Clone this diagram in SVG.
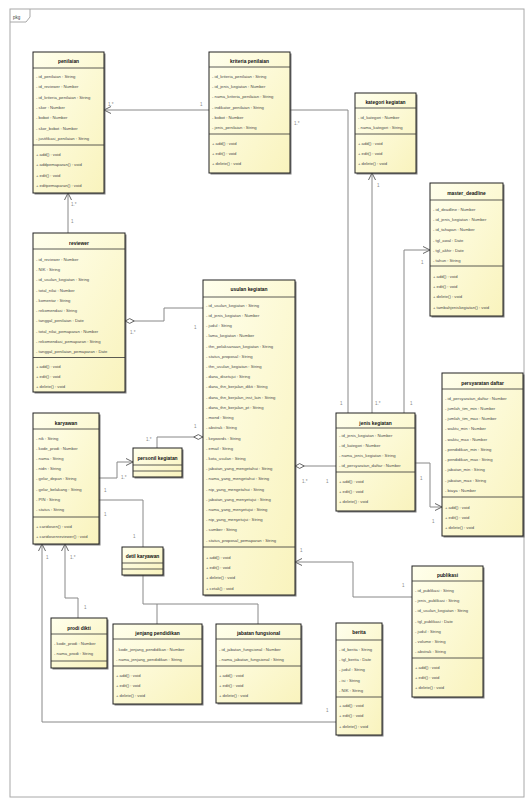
<svg xmlns="http://www.w3.org/2000/svg" width="526" height="799" viewBox="0 0 526 799">
<defs>
<linearGradient id="yg" x1="0" y1="0" x2="1" y2="1">
<stop offset="0" stop-color="#FFFFEC"/>
<stop offset="1" stop-color="#F9F3BD"/>
</linearGradient>
<marker id="arr" viewBox="0 0 8 8" refX="7.5" refY="4" markerWidth="8" markerHeight="8" markerUnits="userSpaceOnUse" orient="auto">
<path d="M0.5,0.5 L7.5,4 L0.5,7.5" fill="none" stroke="#666" stroke-width="1"/>
</marker>
<marker id="dia" viewBox="0 0 10 6" refX="0.3" refY="3" markerWidth="10" markerHeight="6" markerUnits="userSpaceOnUse" orient="auto">
<path d="M0.5,3 L5,0.6 L9.5,3 L5,5.4 Z" fill="#fff" stroke="#555" stroke-width="0.9"/>
</marker>
<marker id="tri" viewBox="0 0 10 10" refX="0.5" refY="5" markerWidth="9" markerHeight="9" markerUnits="userSpaceOnUse" orient="auto">
<path d="M0.5,5 L8.5,1 L8.5,9 Z" fill="#fff" stroke="#555" stroke-width="0.9"/>
</marker>
</defs>
<style>
.bx{fill:url(#yg);stroke:#222;stroke-width:1}
.sh{fill:#555;opacity:.75}
.sep{stroke:#333;stroke-width:0.8;fill:none}
.t{font-family:"Liberation Sans",Arial,sans-serif;font-size:4.9px;font-weight:bold;fill:#111;text-anchor:middle}
.a{font-family:"Liberation Sans",Arial,sans-serif;font-size:4.2px;fill:#4a4a4a}
.c{fill:none;stroke:#888;stroke-width:1}
.l{font-family:"Liberation Sans",Arial,sans-serif;font-size:4.5px;fill:#888}
.fr{fill:none;stroke:#a8a8a8;stroke-width:1}
</style>
<rect width="526" height="799" fill="#fff"/>
<g id="frame">
<rect class="fr" x="10" y="9" width="514" height="788"/>
<path class="fr" d="M10,22 H26 L30,17 V9"/>
<text class="l" x="13" y="19" style="fill:#444">pkg</text>
</g>
<g id="connectors">
<path class="c" d="M209,110 H104" marker-end="url(#arr)"/>
<path class="c" d="M290,110 H348 V413"/>
<path class="c" d="M372,413 V173" marker-end="url(#arr)"/>
<path class="c" d="M404,413 V250 H430" marker-end="url(#arr)"/>
<path class="c" d="M415,463 H430 V507 H442" marker-end="url(#arr)"/>
<path class="c" d="M295,466 H336" marker-start="url(#dia)"/>
<path class="c" d="M412,597 H353 V562 H295" marker-end="url(#arr)"/>
<path class="c" d="M125,321 H164 V308 H203" marker-start="url(#dia)"/>
<path class="c" d="M68,233 V193" marker-end="url(#arr)"/>
<path class="c" d="M203,437 H157 V448" marker-start="url(#dia)"/>
<path class="c" d="M99,478 H117 V462 H133" marker-end="url(#arr)"/>
<path class="c" d="M99,500 H143 V547"/>
<path class="c" d="M143,604 V575" marker-end="url(#tri)"/>
<path class="c" d="M143,604 H258 V624 M157,604 V624"/>
<path class="c" d="M78,618 V598 H65 V544" marker-end="url(#arr)"/>
<path class="c" d="M336,722 H42 V544" marker-end="url(#arr)"/>
<text class="l" x="200" y="106">1</text>
<text class="l" x="108" y="106">1.*</text>
<text class="l" x="294" y="125">1.*</text>
<text class="l" x="340" y="405">1</text>
<text class="l" x="377" y="187">1</text>
<text class="l" x="375" y="405">1.*</text>
<text class="l" x="421" y="264">1</text>
<text class="l" x="410" y="405">1</text>
<text class="l" x="420" y="480">1</text>
<text class="l" x="432" y="523">1</text>
<text class="l" x="302" y="483">1.*</text>
<text class="l" x="326" y="483">1</text>
<text class="l" x="300" y="552">1</text>
<text class="l" x="402" y="587">1</text>
<text class="l" x="130" y="334">1.*</text>
<text class="l" x="194" y="329">1</text>
<text class="l" x="71" y="206">1.*</text>
<text class="l" x="71" y="223">1</text>
<text class="l" x="194" y="428">1</text>
<text class="l" x="146" y="441">1.*</text>
<text class="l" x="121" y="479">1.*</text>
<text class="l" x="104" y="492">1</text>
<text class="l" x="104" y="516">1</text>
<text class="l" x="133" y="538">1</text>
<text class="l" x="84" y="609">1</text>
<text class="l" x="70" y="559">1.*</text>
<text class="l" x="326" y="712">1</text>
<text class="l" x="46" y="559">1</text>
</g>
<g id="penilaian">
<rect class="sh" x="34.5" y="53.5" width="71" height="141"/>
<rect class="bx" x="33" y="52" width="71" height="141"/>
<path class="sep" d="M33,68H104M33,145H104"/>
<text class="t" x="68.5" y="63">penilaian</text>
<text class="a"><tspan x="36" y="78">- id_penilaian : String</tspan><tspan x="36" y="88.3">- id_reviewer : Number</tspan><tspan x="36" y="98.6">- id_kriteria_penilaian : String</tspan><tspan x="36" y="108.9">- skor : Number</tspan><tspan x="36" y="119.2">- bobot : Number</tspan><tspan x="36" y="129.5">- skor_bobot : Number</tspan><tspan x="36" y="139.8">- justifikasi_penilaian : String</tspan><tspan x="36" y="156">+ add() : void</tspan><tspan x="36" y="166.3">+ addpemaparan() : void</tspan><tspan x="36" y="176.6">+ edit() : void</tspan><tspan x="36" y="186.9">+ editpemaparan() : void</tspan></text>
</g>
<g id="kriteria_penilaian">
<rect class="sh" x="210.5" y="53.5" width="81" height="121"/>
<rect class="bx" x="209" y="52" width="81" height="121"/>
<path class="sep" d="M209,67H290M209,134H290"/>
<text class="t" x="249.5" y="63">kriteria penilaian</text>
<text class="a"><tspan x="212" y="77.6">- id_kriteria_penilaian : String</tspan><tspan x="212" y="87.9">- id_jenis_kegiatan : Number</tspan><tspan x="212" y="98.2">- nama_kriteria_penilaian : String</tspan><tspan x="212" y="108.5">- indikator_penilaian : String</tspan><tspan x="212" y="118.8">- bobot : Number</tspan><tspan x="212" y="129.1">- jenis_penilaian : String</tspan><tspan x="212" y="144.6">+ add() : void</tspan><tspan x="212" y="154.9">+ edit() : void</tspan><tspan x="212" y="165.2">+ delete() : void</tspan></text>
</g>
<g id="kategori_kegiatan">
<rect class="sh" x="356.5" y="94.5" width="61" height="80"/>
<rect class="bx" x="355" y="93" width="61" height="80"/>
<path class="sep" d="M355,108H416M355,134H416"/>
<text class="t" x="385.5" y="104">kategori kegiatan</text>
<text class="a"><tspan x="358" y="118.6">- id_kategori : Number</tspan><tspan x="358" y="128.9">- nama_kategori : String</tspan><tspan x="358" y="144.6">+ add() : void</tspan><tspan x="358" y="154.9">+ edit() : void</tspan><tspan x="358" y="165.2">+ delete() : void</tspan></text>
</g>
<g id="master_deadline">
<rect class="sh" x="431.5" y="184.5" width="73" height="133"/>
<rect class="bx" x="430" y="183" width="73" height="133"/>
<path class="sep" d="M430,200H503M430,266H503"/>
<text class="t" x="466.5" y="194.5">master_deadline</text>
<text class="a"><tspan x="433" y="210.6">- id_deadline : Number</tspan><tspan x="433" y="220.9">- id_jenis_kegiatan : Number</tspan><tspan x="433" y="231.2">- id_tahapan : Number</tspan><tspan x="433" y="241.5">- tgl_awal : Date</tspan><tspan x="433" y="251.8">- tgl_akhir : Date</tspan><tspan x="433" y="262.1">- tahun : String</tspan><tspan x="433" y="277.6">+ add() : void</tspan><tspan x="433" y="287.9">+ edit() : void</tspan><tspan x="433" y="298.2">+ delete() : void</tspan><tspan x="433" y="308.5">+ tambahjeniskegiatan() : void</tspan></text>
</g>
<g id="reviewer">
<rect class="sh" x="34.5" y="234.5" width="92" height="159"/>
<rect class="bx" x="33" y="233" width="92" height="159"/>
<path class="sep" d="M33,249H125M33,357.5H125"/>
<text class="t" x="79" y="245">reviewer</text>
<text class="a"><tspan x="36" y="260.6">- id_reviewer : Number</tspan><tspan x="36" y="270.9">- NIK : String</tspan><tspan x="36" y="281.2">- id_usulan_kegiatan : String</tspan><tspan x="36" y="291.5">- total_nilai : Number</tspan><tspan x="36" y="301.8">- komentar : String</tspan><tspan x="36" y="312.1">- rekomendasi : String</tspan><tspan x="36" y="322.4">- tanggal_penilaian : Date</tspan><tspan x="36" y="332.7">- total_nilai_pemaparan : Number</tspan><tspan x="36" y="343">- rekomendasi_pemaparan : String</tspan><tspan x="36" y="353.3">- tanggal_penilaian_pemaparan : Date</tspan><tspan x="36" y="367.8">+ add() : void</tspan><tspan x="36" y="378.1">+ edit() : void</tspan><tspan x="36" y="388.4">+ delete() : void</tspan></text>
</g>
<g id="usulan_kegiatan">
<rect class="sh" x="204.5" y="281.5" width="92" height="315"/>
<rect class="bx" x="203" y="280" width="92" height="315"/>
<path class="sep" d="M203,297H295M203,547H295"/>
<text class="t" x="249" y="291">usulan kegiatan</text>
<text class="a"><tspan x="206" y="306.6">- id_usulan_kegiatan : String</tspan><tspan x="206" y="316.8">- id_jenis_kegiatan : Number</tspan><tspan x="206" y="327">- judul : String</tspan><tspan x="206" y="337.3">- lama_kegiatan : Number</tspan><tspan x="206" y="347.5">- thn_pelaksanaan_kegiatan : String</tspan><tspan x="206" y="357.7">- status_proposal : String</tspan><tspan x="206" y="367.9">- thn_usulan_kegiatan : String</tspan><tspan x="206" y="378.1">- dana_disetujui : String</tspan><tspan x="206" y="388.4">- dana_thn_berjalan_dikti : String</tspan><tspan x="206" y="398.6">- dana_thn_berjalan_inst_lain : String</tspan><tspan x="206" y="408.8">- dana_thn_berjalan_pt : String</tspan><tspan x="206" y="419">- mond : String</tspan><tspan x="206" y="429.2">- abstrak : String</tspan><tspan x="206" y="439.5">- keywords : String</tspan><tspan x="206" y="449.7">- email : String</tspan><tspan x="206" y="459.9">- kota_usulan : String</tspan><tspan x="206" y="470.1">- jabatan_yang_mengetahui : String</tspan><tspan x="206" y="480.3">- nama_yang_mengetahui : String</tspan><tspan x="206" y="490.6">- nip_yang_mengetahui : String</tspan><tspan x="206" y="500.8">- jabatan_yang_menyetujui : String</tspan><tspan x="206" y="511">- nama_yang_menyetujui : String</tspan><tspan x="206" y="521.2">- nip_yang_menyetujui : String</tspan><tspan x="206" y="531.4">- sumber : String</tspan><tspan x="206" y="541.7">- status_proposal_pemaparan : String</tspan><tspan x="206" y="558.6">+ add() : void</tspan><tspan x="206" y="568.9">+ edit() : void</tspan><tspan x="206" y="579.2">+ delete() : void</tspan><tspan x="206" y="589.5">+ cetak() : void</tspan></text>
</g>
<g id="persyaratan_daftar">
<rect class="sh" x="443.5" y="374.5" width="81" height="163"/>
<rect class="bx" x="442" y="373" width="81" height="163"/>
<path class="sep" d="M442,389H523M442,497H523"/>
<text class="t" x="482.5" y="385">persyaratan daftar</text>
<text class="a"><tspan x="445" y="399.6">- id_persyaratan_daftar : Number</tspan><tspan x="445" y="409.9">- jumlah_tim_min : Number</tspan><tspan x="445" y="420.1">- jumlah_tim_max : Number</tspan><tspan x="445" y="430.4">- waktu_min : Number</tspan><tspan x="445" y="440.6">- waktu_max : Number</tspan><tspan x="445" y="450.9">- pendidikan_min : String</tspan><tspan x="445" y="461.1">- pendidikan_max : String</tspan><tspan x="445" y="471.4">- jabatan_min : String</tspan><tspan x="445" y="481.6">- jabatan_max : String</tspan><tspan x="445" y="491.9">- biaya : Number</tspan><tspan x="445" y="508.6">+ add() : void</tspan><tspan x="445" y="518.9">+ edit() : void</tspan><tspan x="445" y="529.2">+ delete() : void</tspan></text>
</g>
<g id="jenis_kegiatan">
<rect class="sh" x="337.5" y="414.5" width="79" height="98"/>
<rect class="bx" x="336" y="413" width="79" height="98"/>
<path class="sep" d="M336,428H415M336,472H415"/>
<text class="t" x="375.5" y="424.5">jenis kegiatan</text>
<text class="a"><tspan x="339" y="436.5">- id_jenis_kegiatan : Number</tspan><tspan x="339" y="446.5">- id_kategori : Number</tspan><tspan x="339" y="456.5">- nama_jenis_kegiatan : String</tspan><tspan x="339" y="466.5">- id_persyaratan_daftar : Number</tspan><tspan x="339" y="483">+ add() : void</tspan><tspan x="339" y="493">+ edit() : void</tspan><tspan x="339" y="503">+ delete() : void</tspan></text>
</g>
<g id="karyawan">
<rect class="sh" x="34.5" y="414.5" width="66" height="131"/>
<rect class="bx" x="33" y="413" width="66" height="131"/>
<path class="sep" d="M33,429H99M33,517H99"/>
<text class="t" x="66" y="424.5">karyawan</text>
<text class="a"><tspan x="36" y="439.6">- nik : String</tspan><tspan x="36" y="449.8">- kode_prodi : Number</tspan><tspan x="36" y="460">- nama : String</tspan><tspan x="36" y="470.2">- nidn : String</tspan><tspan x="36" y="480.4">- gelar_depan : String</tspan><tspan x="36" y="490.6">- gelar_belakang : String</tspan><tspan x="36" y="500.8">- PIN : String</tspan><tspan x="36" y="511">- status : String</tspan><tspan x="36" y="527.6">+ caridosen() : void</tspan><tspan x="36" y="537.6">+ caridosenreviewer() : void</tspan></text>
</g>
<g id="personil_kegiatan">
<rect class="sh" x="134.5" y="449.5" width="49" height="29"/>
<rect class="bx" x="133" y="448" width="49" height="29"/>
<path class="sep" d="M133,465H182M133,471H182"/>
<text class="t" x="157.5" y="459.5">personil kegiatan</text>
</g>
<g id="detil_karyawan">
<rect class="sh" x="123.5" y="548.5" width="41" height="28"/>
<rect class="bx" x="122" y="547" width="41" height="28"/>
<path class="sep" d="M122,563H163M122,569H163"/>
<text class="t" x="142.5" y="558">detil karyawan</text>
</g>
<g id="prodi_dikti">
<rect class="sh" x="52.5" y="619.5" width="56" height="50"/>
<rect class="bx" x="51" y="618" width="56" height="50"/>
<path class="sep" d="M51,634H107M51,661H107"/>
<text class="t" x="79" y="629.5">prodi dikti</text>
<text class="a"><tspan x="54" y="644.6">- kode_prodi : Number</tspan><tspan x="54" y="654.6">- nama_prodi : String</tspan></text>
</g>
<g id="jenjang_pendidikan">
<rect class="sh" x="114.5" y="625.5" width="89" height="80"/>
<rect class="bx" x="113" y="624" width="89" height="80"/>
<path class="sep" d="M113,639H202M113,666H202"/>
<text class="t" x="157.5" y="635">jenjang pendidikan</text>
<text class="a"><tspan x="116" y="650.6">- kode_jenjang_pendidikan : Number</tspan><tspan x="116" y="660.6">- nama_jenjang_pendidikan : String</tspan><tspan x="116" y="676.6">+ add() : void</tspan><tspan x="116" y="686.6">+ edit() : void</tspan><tspan x="116" y="696.6">+ delete() : void</tspan></text>
</g>
<g id="jabatan_fungsional">
<rect class="sh" x="217.5" y="625.5" width="85" height="79"/>
<rect class="bx" x="216" y="624" width="85" height="79"/>
<path class="sep" d="M216,639H301M216,666H301"/>
<text class="t" x="258.5" y="635">jabatan fungsional</text>
<text class="a"><tspan x="219" y="650.6">- id_jabatan_fungsional : Number</tspan><tspan x="219" y="660.6">- nama_jabatan_fungsional : String</tspan><tspan x="219" y="676.6">+ add() : void</tspan><tspan x="219" y="686.6">+ edit() : void</tspan><tspan x="219" y="696.6">+ delete() : void</tspan></text>
</g>
<g id="berita">
<rect class="sh" x="337.5" y="624.5" width="46" height="112"/>
<rect class="bx" x="336" y="623" width="46" height="112"/>
<path class="sep" d="M336,640H382M336,697H382"/>
<text class="t" x="359" y="634">berita</text>
<text class="a"><tspan x="339" y="650.6">- id_berita : String</tspan><tspan x="339" y="660.9">- tgl_berita : Date</tspan><tspan x="339" y="671.2">- judul : String</tspan><tspan x="339" y="681.5">- isi : String</tspan><tspan x="339" y="691.8">- NIK : String</tspan><tspan x="339" y="707">+ add() : void</tspan><tspan x="339" y="717.3">+ edit() : void</tspan><tspan x="339" y="727.6">+ delete() : void</tspan></text>
</g>
<g id="publikasi">
<rect class="sh" x="413.5" y="567.5" width="71" height="131"/>
<rect class="bx" x="412" y="566" width="71" height="131"/>
<path class="sep" d="M412,581H483M412,658H483"/>
<text class="t" x="447.5" y="577">publikasi</text>
<text class="a"><tspan x="415" y="591.6">- id_publikasi : String</tspan><tspan x="415" y="601.9">- jenis_publikasi : String</tspan><tspan x="415" y="612.2">- id_usulan_kegiatan : String</tspan><tspan x="415" y="622.5">- tgl_publikasi : Date</tspan><tspan x="415" y="632.8">- judul : String</tspan><tspan x="415" y="643.1">- volume : String</tspan><tspan x="415" y="653.4">- abstrak : String</tspan><tspan x="415" y="668.6">+ add() : void</tspan><tspan x="415" y="678.9">+ edit() : void</tspan><tspan x="415" y="689.2">+ delete() : void</tspan></text>
</g>
</svg>
